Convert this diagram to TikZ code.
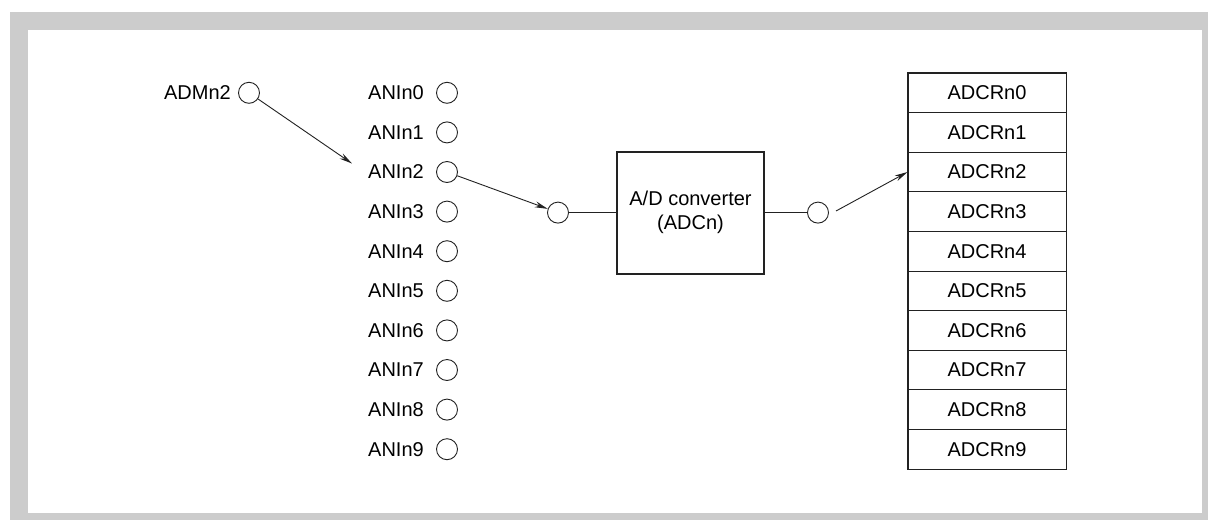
\documentclass[tikz,border=0pt]{standalone}
\usepackage{fontspec}
\setmainfont{Liberation Sans}
\usetikzlibrary{arrows.meta, positioning, calc}
\definecolor{framegray}{RGB}{204,204,204}
\definecolor{inkdark}{RGB}{34,34,34}

\begin{document}
\begin{tikzpicture}[x=1pt, y=-1pt, font=\fontsize{20}{24}\selectfont,
    pin/.style={circle, draw=inkdark, line width=0.9pt, minimum size=21pt, inner sep=0pt},
    lbl/.style={anchor=east, inner sep=0pt},
    cell/.style={rectangle, draw=inkdark, line width=0.9pt, minimum width=158pt, minimum height=39.6pt, inner sep=0pt},
    conn/.style={draw=inkdark, line width=0.9pt},
    arr/.style={conn, -{Stealth[length=13pt, width=6pt]}}]
    % Frame
    \useasboundingbox (0,0) rectangle (1208,520);
    \fill[framegray] (10,12) rectangle (1208,520);
    \fill[white] (28,30) rectangle (1202,513);

    % Selector input
    \node[pin] (adm) at (249,92.8) {};
    \node[lbl] (admlbl) at (231,92.8) {ADMn2};

    % Analog inputs
    \foreach \i in {0,...,9} {
        \node[pin] (ain\i) at (447,92.8+39.6*\i) {};
        \node[lbl] (ainlbl\i) at (424,92.8+39.6*\i) {ANIn\i};
    }

    % Converter
    \node[pin] (cin) at (558,212.6) {};
    \node[draw=inkdark, line width=1.8pt, minimum width=147pt, minimum height=122pt, align=center] (adc) at (690.5,212.6) {A/D converter\\(ADCn)};
    \node[pin] (cout) at (818,212.6) {};

    % Result registers
    \foreach \i in {0,...,9} {
        \node[cell] (reg\i) at (987,92.8+39.6*\i) {ADCRn\i};
    }
    \draw[inkdark, line width=1.8pt] (reg0.north west) rectangle (reg9.south east);

    % Connections
    \coordinate (selend) at (352,163.5);
    \coordinate (outstart) at (836,211);
    \draw[arr] (adm) -- (selend);
    \draw[arr] (ain2) -- (cin);
    \draw[conn] (cin) -- (adc);
    \draw[conn] (adc) -- (cout);
    \draw[arr] (outstart) -- (reg2.west);
\end{tikzpicture}
\end{document}
